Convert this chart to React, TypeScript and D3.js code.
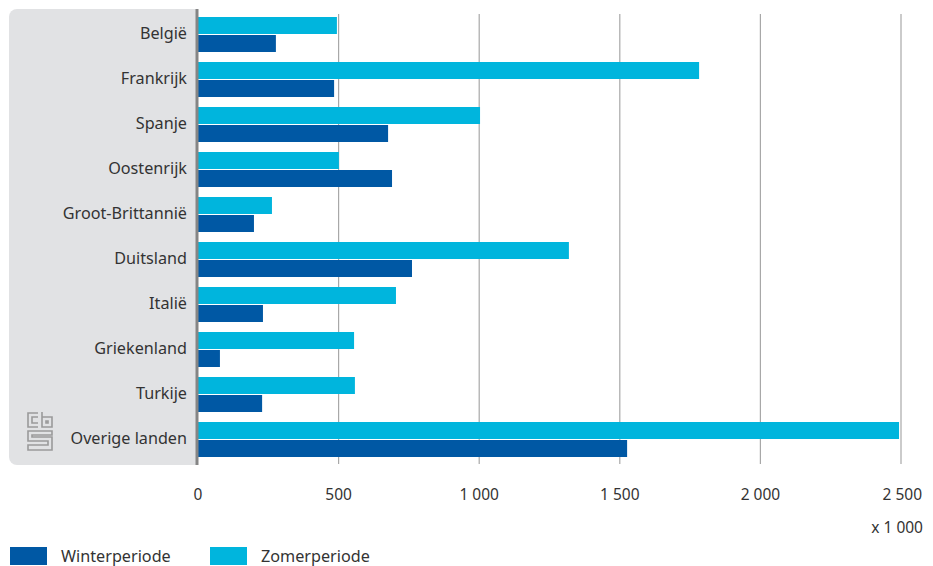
import { useEffect, useRef } from "react";
import * as d3 from "d3";

const countries = [
  "België",
  "Frankrijk",
  "Spanje",
  "Oostenrijk",
  "Groot-Brittannië",
  "Duitsland",
  "Italië",
  "Griekenland",
  "Turkije",
  "Overige landen",
];
const zomer = [494, 1782, 1003, 501, 263, 1319, 704, 555, 558, 2493];
const winter = [277, 484, 676, 690, 199, 761, 231, 78, 228, 1526];
const ticks = [0, 500, 1000, 1500, 2000, 2500];

const W = 933;
const H = 566;

export default function App() {
  const svgRef = useRef<SVGSVGElement | null>(null);

  useEffect(() => {
    if (!svgRef.current) return;
    const svg = d3.select(svgRef.current);
    svg.selectAll("*").remove();

    const font = "'Noto Sans', 'Open Sans', sans-serif";
    const textColor = "#333333";
    const winterColor = "#0058a4";
    const zomerColor = "#00b5dd";

    const x = d3.scaleLinear().domain([0, 2500]).range([198, 901]);
    const y = d3.scaleBand<string>().domain(countries).range([12, 462]).paddingInner(0).paddingOuter(0);
    const barH = 17;

    // grey panel behind the labels
    svg
      .append("rect")
      .attr("x", 9)
      .attr("y", 9)
      .attr("width", 200)
      .attr("height", 456)
      .attr("rx", 8)
      .attr("fill", "#e1e2e4");
    svg
      .append("rect")
      .attr("x", 196)
      .attr("y", 0)
      .attr("width", 40)
      .attr("height", 470)
      .attr("fill", "#ffffff");

    // gridlines
    svg
      .append("g")
      .selectAll("line")
      .data(ticks.filter((t) => t > 0))
      .join("line")
      .attr("x1", (d) => x(d))
      .attr("x2", (d) => x(d))
      .attr("y1", 14)
      .attr("y2", 464)
      .attr("stroke", "#a8a8a8")
      .attr("stroke-width", 1.2);

    // bars
    const band = svg
      .append("g")
      .selectAll("g")
      .data(countries)
      .join("g")
      .attr("transform", (d) => `translate(0,${y(d)!})`);

    band
      .append("rect")
      .attr("x", x(0))
      .attr("y", 5)
      .attr("height", barH)
      .attr("width", (_, i) => x(zomer[i]) - x(0))
      .attr("fill", zomerColor);
    band
      .append("rect")
      .attr("x", x(0))
      .attr("y", 5 + barH + 1)
      .attr("height", barH)
      .attr("width", (_, i) => x(winter[i]) - x(0))
      .attr("fill", winterColor);

    band
      .append("text")
      .attr("x", 187)
      .attr("y", 5 + barH)
      .attr("dy", "0.32em")
      .attr("text-anchor", "end")
      .attr("font-family", font)
      .attr("font-size", 16.2)
      .attr("fill", textColor)
      .text((d) => d);

    // axis line
    svg
      .append("line")
      .attr("x1", 197)
      .attr("x2", 197)
      .attr("y1", 9)
      .attr("y2", 465)
      .attr("stroke", "#858585")
      .attr("stroke-width", 3);

    // tick labels
    const fmt = (v: number) => d3.format(",")(v).replace(",", " ");
    svg
      .append("g")
      .selectAll("text")
      .data(ticks)
      .join("text")
      .attr("x", (d) => x(d))
      .attr("y", 495)
      .attr("dy", "0.35em")
      .attr("text-anchor", (d) => (d === 2500 ? "end" : "middle"))
      .attr("dx", (d) => (d === 2500 ? 21 : 0))
      .attr("font-family", font)
      .attr("font-size", 15.5)
      .attr("fill", textColor)
      .text(fmt);

    svg
      .append("text")
      .attr("x", 923)
      .attr("y", 528)
      .attr("dy", "0.35em")
      .attr("text-anchor", "end")
      .attr("font-family", font)
      .attr("font-size", 15.5)
      .attr("fill", textColor)
      .text("x 1 000");

    // legend
    const legend = [
      { label: "Winterperiode", color: winterColor, x: 10 },
      { label: "Zomerperiode", color: zomerColor, x: 210 },
    ];
    const lg = svg
      .append("g")
      .selectAll("g")
      .data(legend)
      .join("g")
      .attr("transform", (d) => `translate(${d.x},547)`);
    lg.append("rect").attr("width", 37).attr("height", 18).attr("fill", (d) => d.color);
    lg.append("text")
      .attr("x", 51)
      .attr("y", 9)
      .attr("dy", "0.35em")
      .attr("font-family", font)
      .attr("font-size", 16.2)
      .attr("fill", textColor)
      .text((d) => d.label);

    // cbs logo
    const logo = svg
      .append("g")
      .attr("transform", "translate(27,412)")
      .attr("fill", "none")
      .attr("stroke", "#9a9a9a")
      .attr("stroke-width", 1.6);
    // c
    logo.append("path").attr("d", "M11,1 H1 V15 H11 M11,5 H5 V11 H11");
    // b
    logo.append("path").attr("d", "M15,0 V15 H25 V5 H15 M19,9 H21 V11 H19 Z");
    // S
    logo
      .append("path")
      .attr(
        "d",
        "M25,19 H1 V29 H21 V33 H1 V38 H25 V25 H5 V23 H25 Z"
      );
  }, []);

  return (
    <svg
      ref={svgRef}
      width={W}
      height={H}
      style={{ display: "block", position: "absolute", left: 0, top: 0 }}
    />
  );
}
